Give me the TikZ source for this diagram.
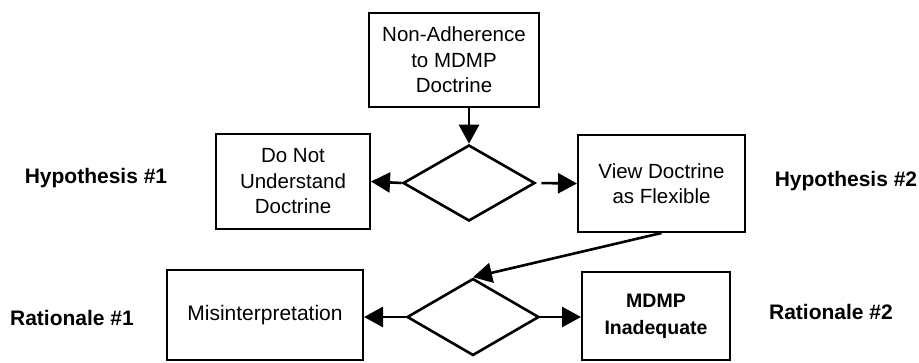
\documentclass[tikz,border=0pt]{standalone}
\usepackage{fontspec}
\setmainfont{Liberation Sans}
\usetikzlibrary{shapes.geometric,arrows.meta}

\tikzset{
  box/.style={draw, line width=2pt, inner sep=0pt, align=center,
              font=\fontsize{20.5}{25.5}\selectfont},
  decision/.style={draw, diamond, line width=2.6pt, inner sep=0pt},
  label/.style={font=\fontsize{21}{25}\selectfont\bfseries, inner sep=0pt},
  flow/.style={line width=2.6pt, -{Triangle[length=19pt,width=20pt]}},
}

\begin{document}
\begin{tikzpicture}[x=1pt, y=-1pt]
  \useasboundingbox (0,0) rectangle (919,362);

  % top-level problem
  \node[box, minimum width=170pt, minimum height=94pt] (top) at (454,60)
    {Non-Adherence\\to MDMP\\Doctrine};

  % first decision and hypotheses
  \node[decision, minimum width=132pt, minimum height=76pt] (d1) at (469,183) {};
  \node[box, minimum width=154pt, minimum height=95pt] (hyp1) at (293,181.5)
    {Do Not\\Understand\\Doctrine};
  \node[box, minimum width=167pt, minimum height=97pt] (hyp2) at (661.5,183.5)
    {View Doctrine\\as Flexible};

  % second decision and rationales
  \node[decision, minimum width=132pt, minimum height=77pt] (d2) at (473,317) {};
  \node[box, minimum width=196pt, minimum height=90pt, font=\fontsize{21}{25}\selectfont]
    (rat1) at (265,315) {Misinterpretation};
  \node[box, minimum width=148pt, minimum height=88pt, font=\fontsize{19.5}{27}\selectfont\bfseries]
    (rat2) at (656,316) {MDMP\\Inadequate};

  % side labels
  \node[label] (lh1) at (96,178) {Hypothesis \#1};
  \node[label] (lh2) at (846,181) {Hypothesis \#2};
  \node[label] (lr1) at (72,318) {Rationale \#1};
  \node[label] (lr2) at (831,312) {Rationale \#2};

  % connectors
  \draw[flow] (top.south -| d1.north) -- (d1.north);
  \draw[flow] (d1.west) -- (hyp1.east);
  \draw[flow, shorten <=5pt] (d1.east) -- (hyp2.west);
  \draw[flow] (hyp2.south) -- (d2.north);
  \draw[flow] (d2.west) -- (rat1.east |- d2.west);
  \draw[flow] (d2.east) -- (rat2.west |- d2.east);
\end{tikzpicture}
\end{document}
